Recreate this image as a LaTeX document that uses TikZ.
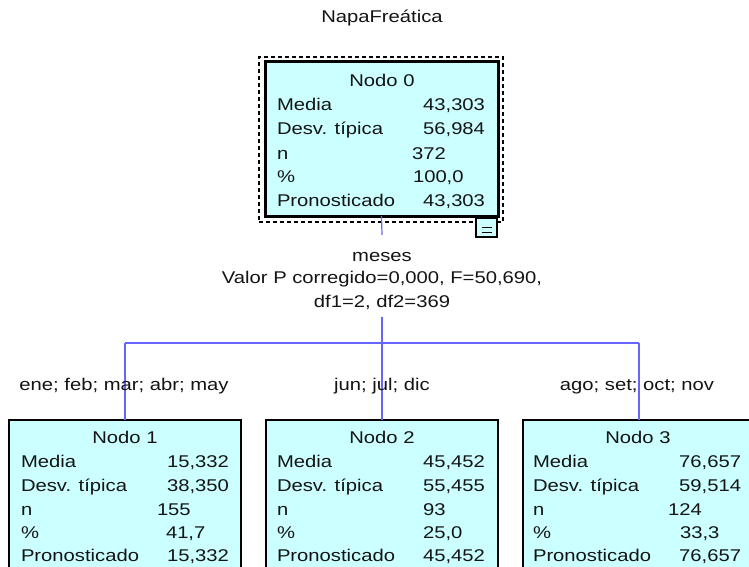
\documentclass[tikz,border=0pt]{standalone}
\usepackage{fontspec}
\setmainfont{Liberation Sans}[FakeStretch=1.19]
\definecolor{nodefill}{RGB}{204,255,255}
\definecolor{connblue}{RGB}{102,102,255}
\definecolor{txt}{RGB}{20,20,20}
\begin{document}
\begin{tikzpicture}[x=1pt,y=-1pt,
  every node/.style={inner sep=0pt,outer sep=0pt,font=\fontsize{17}{20}\selectfont,text=txt},
  treebox/.style={draw=black,fill=nodefill,line width=1.2pt,minimum width=232pt,minimum height=170pt,anchor=north west},
  rootbox/.style={draw=black,fill=nodefill,line width=3pt,minimum width=233pt,minimum height=154pt,anchor=north west},
  selbox/.style={draw=black,line width=1.5pt,dash pattern=on 4pt off 3pt,minimum width=244pt,minimum height=165pt,anchor=north west},
  togglebox/.style={draw=black,fill=nodefill,line width=1.2pt,minimum width=21pt,minimum height=19pt,anchor=north west},
  conn/.style={draw=connblue,line width=1.2pt},
  lbl/.style={anchor=base west},
  valr/.style={anchor=base east},
  cen/.style={anchor=base}]
\useasboundingbox (0,0) rectangle (749,567);
\clip (0,0) rectangle (749,567);
\fill[white] (0,0) rectangle (749,567);

% title
\node[cen] (title) at (382,23) {NapaFreática};

% root node
\node[selbox] (sel0) at (259,57) {};
\node[rootbox] (n0) at (265,62) {};
\node[togglebox] (tog) at (476,218) {};
\draw[black,line width=1.5pt] ([xshift=5pt]tog.center) -- ([xshift=-5pt]tog.center);
\draw[black,line width=1.2pt] ([xshift=-5pt,yshift=-5pt]tog.center) -- ([xshift=5pt,yshift=-5pt]tog.center);

\node[cen] (n0t) at (382,87) {Nodo 0};
\node[lbl] (n0a) at (277,111) {Media};
\node[valr] (n0av) at (485,111) {43,303};
\node[lbl] (n0b) at (277,135) {Desv. típica};
\node[valr] (n0bv) at (485,135) {56,984};
\node[lbl] (n0c) at (277,159) {n};
\node[lbl] (n0cv) at (412,159) {372};
\node[lbl] (n0d) at (277,182) {\%};
\node[lbl] (n0dv) at (413,182) {100,0};
\node[lbl] (n0e) at (277,206) {Pronosticado};
\node[valr] (n0ev) at (485,206) {43,303};

% split info
\node[cen] (sp1) at (382,261) {meses};
\node[cen] (sp2) at (382,283) {Valor P corregido=0,000, F=50,690,};
\node[cen] (sp3) at (382,307) {df1=2, df2=369};

% child nodes
\node[treebox] (n1) at (9,420) {};
\node[treebox] (n2) at (266,420) {};
\node[treebox] (n3) at (523,420) {};

% connectors
\coordinate (s0) at (382,235);
\coordinate (s1) at (382,317);
\coordinate (hm) at (382,343);
\coordinate (hl) at (125,343);
\coordinate (hr) at (639,343);
\draw[conn] (n0.south) -- (s0);
\draw[conn] (s1) -- (hm);
\draw[conn] (hl) -- (hr);
\draw[conn] (hl) -- (n1.north);
\draw[conn] (hm) -- (n2.north);
\draw[conn] (hr) -- (n3.north);

% branch labels
\node[cen] (b1) at (124,390) {ene; feb; mar; abr; may};
\node[cen] (b2) at (382,390) {jun; jul; dic};
\node[cen] (b3) at (637,390) {ago; set; oct; nov};

% node 1
\node[cen] (n1t) at (125,443) {Nodo 1};
\node[lbl] (n1a) at (21,467) {Media};
\node[valr] (n1av) at (229,467) {15,332};
\node[lbl] (n1b) at (21,491) {Desv. típica};
\node[valr] (n1bv) at (229,491) {38,350};
\node[lbl] (n1c) at (21,515) {n};
\node[lbl] (n1cv) at (157,515) {155};
\node[lbl] (n1d) at (21,538) {\%};
\node[lbl] (n1dv) at (166,538) {41,7};
\node[lbl] (n1e) at (21,561) {Pronosticado};
\node[valr] (n1ev) at (229,561) {15,332};

% node 2
\node[cen] (n2t) at (382,443) {Nodo 2};
\node[lbl] (n2a) at (277,467) {Media};
\node[lbl] (n2av) at (423,467) {45,452};
\node[lbl] (n2b) at (277,491) {Desv. típica};
\node[lbl] (n2bv) at (423,491) {55,455};
\node[lbl] (n2c) at (277,515) {n};
\node[lbl] (n2cv) at (423,515) {93};
\node[lbl] (n2d) at (277,538) {\%};
\node[lbl] (n2dv) at (423,538) {25,0};
\node[lbl] (n2e) at (277,561) {Pronosticado};
\node[lbl] (n2ev) at (423,561) {45,452};

% node 3
\node[cen] (n3t) at (638,443) {Nodo 3};
\node[lbl] (n3a) at (533,467) {Media};
\node[valr] (n3av) at (741,467) {76,657};
\node[lbl] (n3b) at (533,491) {Desv. típica};
\node[valr] (n3bv) at (741,491) {59,514};
\node[lbl] (n3c) at (533,515) {n};
\node[lbl] (n3cv) at (668,515) {124};
\node[lbl] (n3d) at (533,538) {\%};
\node[lbl] (n3dv) at (680,538) {33,3};
\node[lbl] (n3e) at (533,561) {Pronosticado};
\node[valr] (n3ev) at (741,561) {76,657};
\end{tikzpicture}
\end{document}
